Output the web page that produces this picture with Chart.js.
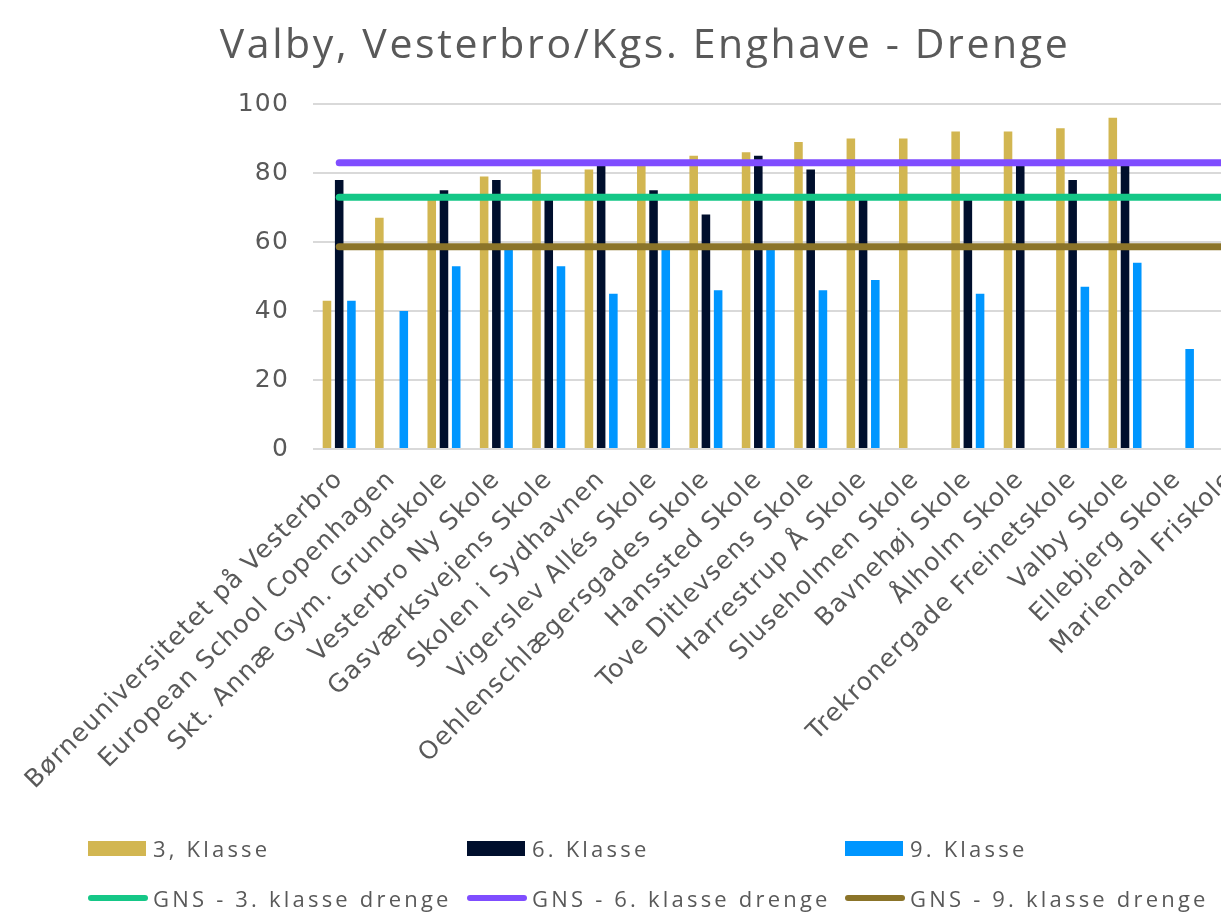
<!DOCTYPE html>
<html>
<head>
<meta charset="utf-8">
<script src="https://cdn.jsdelivr.net/npm/chart.js@4"></script>
<style>
  html, body { margin: 0; padding: 0; background: #fff; overflow: hidden; }
  #wrap { position: relative; width: 1290px; height: 918px; }
  #title { position: absolute; left: 0; top: 17px; width: 1290px; text-align: center; font-family: "Open Sans", sans-serif; font-size: 41px; line-height: 50px; letter-spacing: 2.6px; color: #595959; }
  #legend { position: absolute; left: 0; top: 0; font-family: "Open Sans", sans-serif; font-size: 22px; letter-spacing: 3.2px; color: #595959; }
  .item { position: absolute; display: flex; align-items: center; white-space: nowrap; }
  .box { width: 58px; height: 15px; margin-right: 7px; }
  .line { width: 60px; height: 6px; border-radius: 3px; margin-right: 5px; }
</style>
</head>
<body>
<div id="wrap">
  <canvas id="chart" width="1290" height="918"></canvas>
  <div id="title">Valby, Vesterbro/Kgs. Enghave - Drenge</div>
  <div id="legend"></div>
</div>
<script>
// --- data ---
const schools = [
    'Børneuniversitetet på Vesterbro', 'European School Copenhagen', 'Skt. Annæ Gym. Grundskole',
    'Vesterbro Ny Skole', 'Gasværksvejens Skole', 'Skolen i Sydhavnen', 'Vigerslev Allés Skole',
    'Oehlenschlægersgades Skole', 'Hanssted Skole', 'Tove Ditlevsens Skole', 'Harrestrup Å Skole',
    'Sluseholmen Skole', 'Bavnehøj Skole', 'Ålholm Skole', 'Trekronergade Freinetskole',
    'Valby Skole', 'Ellebjerg Skole', 'Mariendal Friskole'
];
const klasse3 = [43, 67, 73, 79, 81, 81, 82, 85, 86, 89, 90, 90, 92, 92, 93, 96, null, null];
const klasse6 = [78, null, 75, 78, 73, 82, 75, 68, 85, 81, 73, null, 73, 82, 78, 82, null, null];
const klasse9 = [43, 40, 53, 58, 53, 45, 58, 46, 58, 46, 49, null, 45, null, 47, 54, 29, null];
const gns3 = 73;
const gns6 = 83;
const gns9 = 58.6;
const yTicks = [0, 20, 40, 60, 80, 100];

const GREY = '#595959';
const AXIS_FONT = '"DejaVu Sans", sans-serif';

const barSets = [
    { label: '3, Klasse', data: klasse3, color: '#D2B651' },
    { label: '6. Klasse', data: klasse6, color: '#000F2D' },
    { label: '9. Klasse', data: klasse9, color: '#0096FF' },
];
const lineSets = [
    { label: 'GNS - 3. klasse drenge', value: gns3, color: '#15C787' },
    { label: 'GNS - 6. klasse drenge', value: gns6, color: '#7F4DFF' },
    { label: 'GNS - 9. klasse drenge', value: gns9, color: '#8B7429' },
];

const datasets = [];
lineSets.forEach(l => datasets.push({
    type: 'line',
    label: l.label,
    data: schools.map(() => l.value),
    borderColor: l.color,
    backgroundColor: l.color,
    borderWidth: 7,
    borderCapStyle: 'round',
    pointRadius: 0,
    order: 0,
}));
barSets.forEach(b => datasets.push({
    type: 'bar',
    label: b.label,
    data: b.data,
    backgroundColor: b.color,
    categoryPercentage: 0.7,
    barPercentage: 0.7,
    order: 1,
}));

// the original axis font is wide and loosely set
const letterSpacing = {
    id: 'letterSpacing',
    beforeLayout: (c) => { c.ctx.letterSpacing = '1.2px'; },
    beforeDraw: (c) => { c.ctx.letterSpacing = '1.2px'; },
};

new Chart(document.getElementById('chart').getContext('2d'), {
    type: 'bar',
    data: { labels: schools, datasets: datasets },
    plugins: [letterSpacing],
    options: {
        responsive: false,
        animation: false,
        layout: { padding: { top: 104, left: 0, right: 34, bottom: 108 } },
        plugins: {
            legend: { display: false },
            tooltip: { enabled: false },
        },
        scales: {
            x: {
                grid: { display: false, drawTicks: false },
                border: { display: false },
                ticks: {
                    color: GREY,
                    font: { family: AXIS_FONT, size: 25 },
                    minRotation: 45, maxRotation: 45,
                    autoSkip: false,
                    padding: 16,
                },
                afterFit: (s) => { s.height = 361; },
            },
            y: {
                min: 0, max: 100,
                afterBuildTicks: (s) => { s.ticks = yTicks.map(v => ({ value: v })); },
                grid: { color: '#D9D9D9', lineWidth: 2, drawTicks: false },
                border: { display: false },
                ticks: {
                    color: GREY,
                    font: { family: AXIS_FONT, size: 25 },
                    padding: 24,
                },
                afterFit: (s) => { s.width = 313; },
            },
        },
    },
});

// legend laid out in three columns like the original
const legend = document.getElementById('legend');
const cols = [88, 467, 845];
barSets.forEach((b, i) => {
    const el = document.createElement('div');
    el.className = 'item';
    el.style.left = cols[i] + 'px';
    el.style.top = '833px';
    el.innerHTML = `<span class="box" style="background:${b.color}"></span><span>${b.label}</span>`;
    legend.appendChild(el);
});
lineSets.forEach((l, i) => {
    const el = document.createElement('div');
    el.className = 'item';
    el.style.left = cols[i] + 'px';
    el.style.top = '883px';
    el.innerHTML = `<span class="line" style="background:${l.color}"></span><span>${l.label}</span>`;
    legend.appendChild(el);
});
</script>
</body>
</html>
